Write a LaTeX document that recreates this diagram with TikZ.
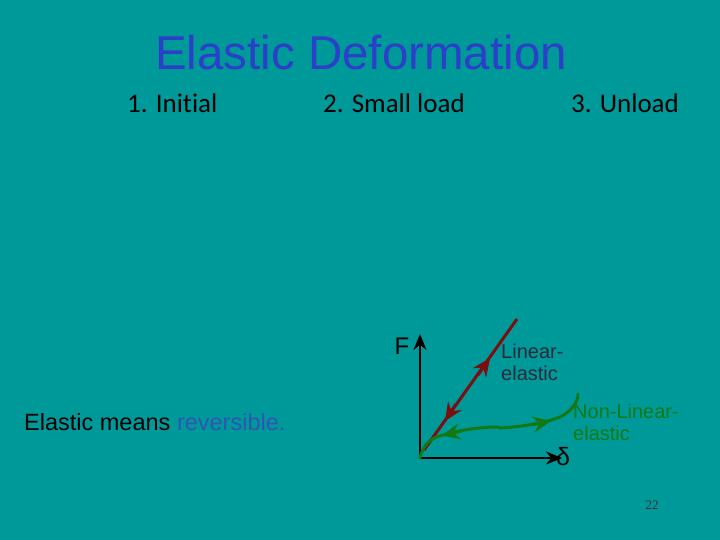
\documentclass[tikz,border=0pt]{standalone}
\usepackage{fontspec}
\setmainfont{Liberation Sans}
\newfontfamily\calib[Ligatures={NoCommon}]{Carlito}
\newfontfamily\timesf{Liberation Serif}
\usetikzlibrary{arrows.meta}
\definecolor{bgteal}{HTML}{009999}
\definecolor{titleblue}{HTML}{2B3FC8}
\definecolor{revblue}{HTML}{2F55B5}
\definecolor{lindred}{HTML}{7A0F12}
\definecolor{nlgreen}{HTML}{137A13}
\definecolor{labdark}{HTML}{2A2A3A}
\tikzset{
  stagelabel/.style={anchor=base west,inner sep=0pt,font=\calib\fontsize{27}{30}\selectfont,text=black},
  graphlabel/.style={anchor=base west,inner sep=0pt,font=\fontsize{20}{22}\selectfont,align=left},
  axisline/.style={line width=2pt,-{Stealth[length=16pt,width=13pt]}},
  midtip/.style={line width=3pt,-{Stealth[length=18pt,width=16pt,inset=6pt]}},
}
\begin{document}
\begin{tikzpicture}[x=1pt,y=-1pt]
\fill[bgteal] (0,0) rectangle (720,540);
\useasboundingbox (0,0) rectangle (720,540);
\node[text=titleblue,font=\fontsize{47.5}{50}\selectfont,inner sep=0pt] (title) at (361,53) {Elastic Deformation};
\node[stagelabel] (s1) at (127,113) {1. Initial};
\node[stagelabel] (s2) at (323,113) {2. Small load};
\node[stagelabel] (s3) at (571,113) {3. Unload};
\node[anchor=base west,inner sep=0pt,font=\fontsize{23.5}{26}\selectfont] (elmeans) at (24,430) {Elastic means \textcolor{revblue}{reversible.}};
\node[anchor=base,inner sep=0pt,font=\timesf\fontsize{13}{15}\selectfont,text=labdark] (pnum) at (652,509) {22};
% axes
\coordinate (O) at (420,458);
\coordinate (Ftop) at (420,334);
\coordinate (Dend) at (562,458);
\draw[axisline] (O) -- (Ftop);
\draw[axisline] (O) -- (Dend);
\node[anchor=base,inner sep=0pt,font=\fontsize{24}{26}\selectfont] (Flab) at (402,354) {F};
\node[anchor=base west,inner sep=0pt,font=\fontsize{25}{27}\selectfont] (dlab) at (556,465) {δ};
% linear elastic
\coordinate (Lb) at (424,450);
\coordinate (Lt) at (517,319);
\draw[lindred,line width=3pt] (Lb) -- (Lt);
\coordinate (Lua) at (478,375);
\coordinate (Lub) at (490,358);
\coordinate (Lda) at (456,404);
\coordinate (Ldb) at (445,421);
\draw[lindred,midtip] (Lua) -- (Lub);
\draw[lindred,midtip] (Lda) -- (Ldb);
% non-linear elastic
\coordinate (Nend) at (578,394);
\draw[nlgreen,line width=3pt,line cap=round]
  (O) .. controls (423,445) and (430,438) .. (443,435)
      .. controls (460,430) and (480,427) .. (498,427) -- (500,428)
      .. controls (520,427) and (545,423) .. (560,417)
      .. controls (572,411) and (578,402) .. (Nend);
\coordinate (Nla) at (462,431);
\coordinate (Nlb) at (442,435.5);
\coordinate (Nra) at (531,425);
\coordinate (Nrb) at (551,421);
\draw[nlgreen,midtip] (Nla) -- (Nlb);
\draw[nlgreen,midtip] (Nra) -- (Nrb);
\node[graphlabel,text=labdark] (linlab) at (501,380) {Linear-\\elastic};
\node[graphlabel,text=nlgreen] (nllab) at (573,440) {Non-Linear-\\elastic};
\end{tikzpicture}
\end{document}
